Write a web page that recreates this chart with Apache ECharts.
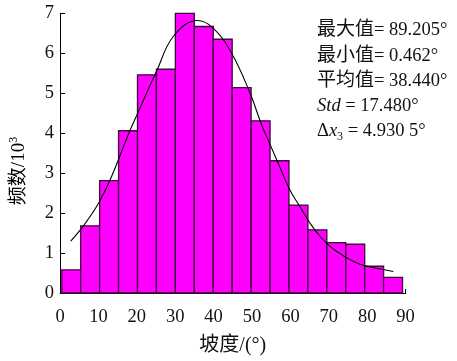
<!DOCTYPE html>
<html>
<head>
<meta charset="utf-8">
<script src="https://cdn.jsdelivr.net/npm/echarts@6/dist/echarts.min.js"></script>
<style>
  html, body { margin: 0; padding: 0; background: #fff; }
  #chart { width: 457px; height: 361px; }
</style>
</head>
<body>
<div id="chart"></div>
<script>
// Slope histogram: bin edges (degrees) and counts (in thousands)
var binEdges = [0.462, 5.39, 10.32, 15.25, 20.18, 25.11, 30.04, 34.98, 39.91, 44.84,
                49.77, 54.70, 59.63, 64.56, 69.49, 74.42, 79.35, 84.27, 89.205];
var binCounts = [0.58, 1.68, 2.81, 4.06, 5.46, 5.60, 7.00, 6.67, 6.35, 5.14,
                 4.31, 3.31, 2.20, 1.58, 1.26, 1.22, 0.67, 0.39];

// Fitted distribution curve: slope (degrees) and frequency (thousands)
var curveX = [2.8, 6.1, 10.0, 13.0, 18.2, 20.0, 25.2, 29.5, 35.8, 39.9, 44.7, 49.5,
              52.5, 54.7, 57.3, 59.9, 62.5, 65.1, 67.7, 70.3, 73.8, 78.1, 82.5, 86.8];
var curveY = [1.30, 1.68, 2.24, 2.82, 4.06, 4.45, 5.56, 6.42, 6.82, 6.63, 6.00, 5.00,
              4.21, 3.72, 3.14, 2.57, 2.16, 1.75, 1.42, 1.17, 0.93, 0.72, 0.62, 0.54];

// Axis ticks
var xTicks = [0, 10, 20, 30, 40, 50, 60, 70, 80, 90];
var yTicks = [0, 1, 2, 3, 4, 5, 6, 7];

var histData = [];
for (var i = 0; i < binCounts.length; i++) {
  histData.push([binEdges[i], binEdges[i + 1], binCounts[i]]);
}
var curveData = curveX.map(function (x, i) { return [x, curveY[i]]; });

var FONT = '"Liberation Serif", "Times New Roman", "Noto Sans CJK SC", serif';
var INK = '#111';

var chart = echarts.init(document.getElementById('chart'), null, { renderer: 'canvas' });

var statStyle = {
  c: { fontFamily: FONT, fontSize: 19, color: INK },
  n: { fontFamily: FONT, fontSize: 18.5, color: INK },
  i: { fontFamily: FONT, fontSize: 18.5, fontStyle: 'italic', color: INK },
  sub: { fontFamily: FONT, fontSize: 12, color: INK, padding: [10, 0, 0, 0] }
};
function statLine(y, text) {
  return {
    type: 'text', left: 317, top: y - 11,
    style: { text: text, rich: statStyle, fontFamily: FONT, fontSize: 18, fill: INK }
  };
}

chart.setOption({
  animation: false,
  grid: { left: 60, top: 13.3, right: 51.4, bottom: 63.3, containLabel: false },
  xAxis: {
    type: 'value', min: xTicks[0], max: xTicks[xTicks.length - 1], interval: 10,
    name: '坡度/(°)', nameLocation: 'middle', nameGap: 43,
    nameTextStyle: { fontFamily: FONT, fontSize: 20, color: INK },
    axisLine: { show: true, lineStyle: { color: '#000', width: 1 } },
    axisTick: { show: true, inside: true, length: 4, lineStyle: { color: '#000' } },
    axisLabel: { fontFamily: FONT, fontSize: 18.5, color: INK, margin: 15 },
    splitLine: { show: false }
  },
  yAxis: {
    type: 'value', min: yTicks[0], max: yTicks[yTicks.length - 1], interval: 1,
    axisLine: { show: true, lineStyle: { color: '#000', width: 1 } },
    axisTick: { show: true, inside: true, length: 5, lineStyle: { color: '#000' } },
    axisLabel: { fontFamily: FONT, fontSize: 18.5, color: INK, margin: 6 },
    splitLine: { show: false }
  },
  graphic: [
    {
      type: 'text', x: 19, y: 171, rotation: Math.PI / 2,
      style: {
        text: '{a|频数/10}{s|3}', align: 'center', verticalAlign: 'middle',
        rich: {
          a: { fontFamily: FONT, fontSize: 19, color: INK },
          s: { fontFamily: FONT, fontSize: 12, color: INK, padding: [0, 0, 10, 0] }
        }
      }
    },
    statLine(31.7, '{c|最大值}{n|= 89.205°}'),
    statLine(57.3, '{c|最小值}{n|= 0.462°}'),
    statLine(82.3, '{c|平均值}{n|= 38.440°}'),
    statLine(108.3, '{i|Std}{n| = 17.480°}'),
    statLine(133.3, '{n|Δ}{i|x}{sub|3}{n| = 4.930 5°}')
  ],
  series: [
    {
      type: 'custom',
      clip: false,
      data: histData,
      encode: { x: [0, 1], y: 2 },
      renderItem: function (params, api) {
        var p0 = api.coord([api.value(0), api.value(2)]);
        var p1 = api.coord([api.value(1), 0]);
        return {
          type: 'rect',
          shape: { x: p0[0], y: p0[1], width: p1[0] - p0[0], height: p1[1] - p0[1] },
          style: { fill: '#ff00ff', stroke: '#3a0a3a', lineWidth: 1.3 }
        };
      },
      z: 2
    },
    {
      type: 'line',
      data: curveData,
      smooth: 0.4,
      showSymbol: false,
      lineStyle: { color: '#000', width: 1.1 },
      z: 3
    }
  ]
});
</script>
</body>
</html>
